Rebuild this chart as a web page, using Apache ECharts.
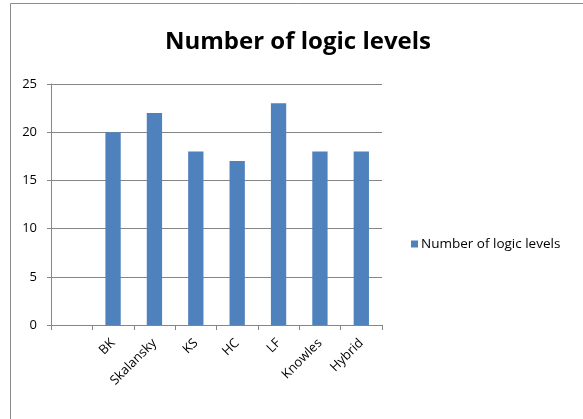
<!DOCTYPE html>
<html>
<head>
<meta charset="utf-8">
<script src="https://cdn.jsdelivr.net/npm/echarts@6/dist/echarts.min.js"></script>
<style>
  html, body { margin: 0; padding: 0; background: #fff; }
  #chart { width: 583px; height: 419px; }
</style>
</head>
<body>
<div id="chart"></div>
<script>
// Adder architectures (the first slot is left empty on the axis)
const categories = ['', 'BK', 'Skalansky', 'KS', 'HC', 'LF', 'Knowles', 'Hybrid'];
const logicLevels = [null, 20, 22, 18, 17, 23, 18, 18];
const yTicks = { min: 0, max: 25, interval: 5 };
const seriesName = 'Number of logic levels';

const chart = echarts.init(document.getElementById('chart'), null, { renderer: 'canvas' });

chart.setOption({
  animation: false,
  backgroundColor: '#fff',
  title: {
    text: 'Number of logic levels',
    left: 293,
    top: 25,
    textAlign: 'center',
    textStyle: {
      fontFamily: 'Open Sans',
      fontWeight: 'bold',
      fontSize: 24,
      color: '#000'
    }
  },
  graphic: [{
    type: 'rect',
    shape: { x: 10.5, y: 3.5, width: 600, height: 500 },
    style: { fill: 'none', stroke: '#8c8c8c', lineWidth: 1 },
    silent: true
  }],
  legend: {
    data: [seriesName],
    left: 406,
    top: 232,
    itemWidth: 7,
    itemHeight: 7,
    itemGap: 4,
    icon: 'rect',
    textStyle: { fontFamily: 'Open Sans', fontSize: 13.5, color: '#000', padding: [0, 0, 0, -2] }
  },
  grid: {
    left: 51,
    top: 84,
    width: 331,
    height: 241,
    containLabel: false
  },
  xAxis: {
    type: 'category',
    data: categories,
    axisLine: { lineStyle: { color: '#868686' } },
    axisTick: { show: true, alignWithLabel: false, length: 5, lineStyle: { color: '#868686' } },
    axisLabel: {
      rotate: 45,
      interval: 0,
      margin: 16,
      fontFamily: 'Open Sans',
      fontSize: 13,
      color: '#000'
    },
    splitLine: { show: false }
  },
  yAxis: {
    type: 'value',
    min: yTicks.min,
    max: yTicks.max,
    interval: yTicks.interval,
    axisLine: { show: true, lineStyle: { color: '#868686' } },
    axisTick: { show: true, length: 4, lineStyle: { color: '#868686' } },
    axisLabel: {
      margin: 14,
      fontFamily: 'Open Sans',
      fontSize: 13,
      color: '#000'
    },
    splitLine: { show: true, lineStyle: { color: '#868686', width: 1 } }
  },
  series: [{
    name: seriesName,
    type: 'bar',
    data: logicLevels,
    barWidth: '37%',
    itemStyle: { color: '#4f81bd' }
  }]
});
</script>
</body>
</html>
